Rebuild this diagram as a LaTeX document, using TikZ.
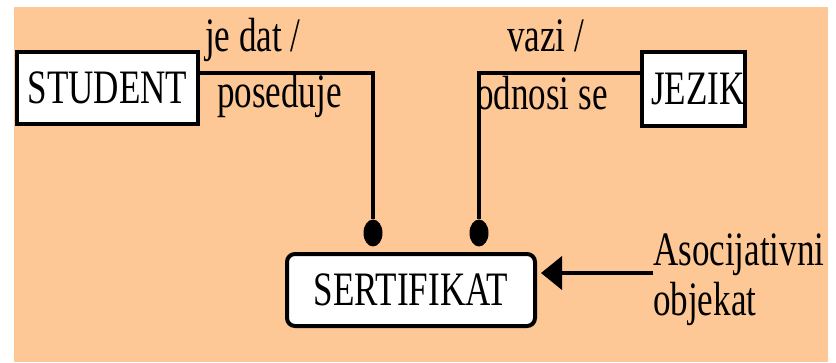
\documentclass[tikz,border=0pt]{standalone}
\usepackage{fontspec}
\setmainfont{Liberation Serif}[FakeStretch=0.73]
\usetikzlibrary{arrows.meta, shapes.geometric}
\definecolor{bgPeach}{HTML}{FDC896}
\newcommand{\bigText}{\fontsize{48}{50}\selectfont}
\tikzset{
    % Entities
    entityBox/.style={rectangle, draw=black, line width=4pt, fill=white, inner sep=0pt, minimum height=72pt, font=\bigText},
    assocBox/.style={entityBox, rounded corners=8pt},
    % Relations
    relLine/.style={line width=3.5pt, draw=black},
    relLabel/.style={inner sep=0pt, font=\bigText},
    dotEnd/.style={ellipse, fill=black, minimum width=19pt, minimum height=27pt, inner sep=0pt},
    assocArrow/.style={-{Triangle[length=21pt, width=33pt]}, line width=4pt, shorten >=4pt}
}
\begin{document}
\begin{tikzpicture}[x=1pt, y=1pt]
    \useasboundingbox (0,0) rectangle (836,362);
    \fill[bgPeach] (14,0) rectangle (828,355);

    % Entities
    \node[entityBox, minimum width=181pt] (student) at (107.5,274) {STUDENT};
    \node[entityBox, minimum width=103pt, minimum height=74pt] (jezik) at (693.5,273) {\hspace*{9pt}JEZIK};
    \node[assocBox, minimum width=248pt] (sertifikat) at (411,72) {SERTIFIKAT};

    % Labels
    \node[relLabel, anchor=base west] (jeDat) at (205,310) {je dat /};
    \node[relLabel, anchor=base west] (poseduje) at (217,254) {poseduje};
    \node[relLabel, anchor=base west] (vazi) at (507,310) {vazi /};
    \node[relLabel, anchor=base west] (odnosi) at (476,252) {odnosi se};
    \node[relLabel, anchor=north west, align=left] (assocLabel) at (653,128) {Asocijativni\\objekat};

    % Links
    \node[dotEnd] (dotLeft) at (373,129) {};
    \node[dotEnd] (dotRight) at (479,129) {};
    \draw[relLine] ([yshift=15pt]student.east) -| (dotLeft);
    \draw[relLine] ([yshift=16pt]jezik.west) -| (dotRight);

    % Arrow
    \coordinate (assocTail) at (653,89);
    \draw[assocArrow] (assocTail) -- (assocTail -| sertifikat.east);
\end{tikzpicture}
\end{document}
